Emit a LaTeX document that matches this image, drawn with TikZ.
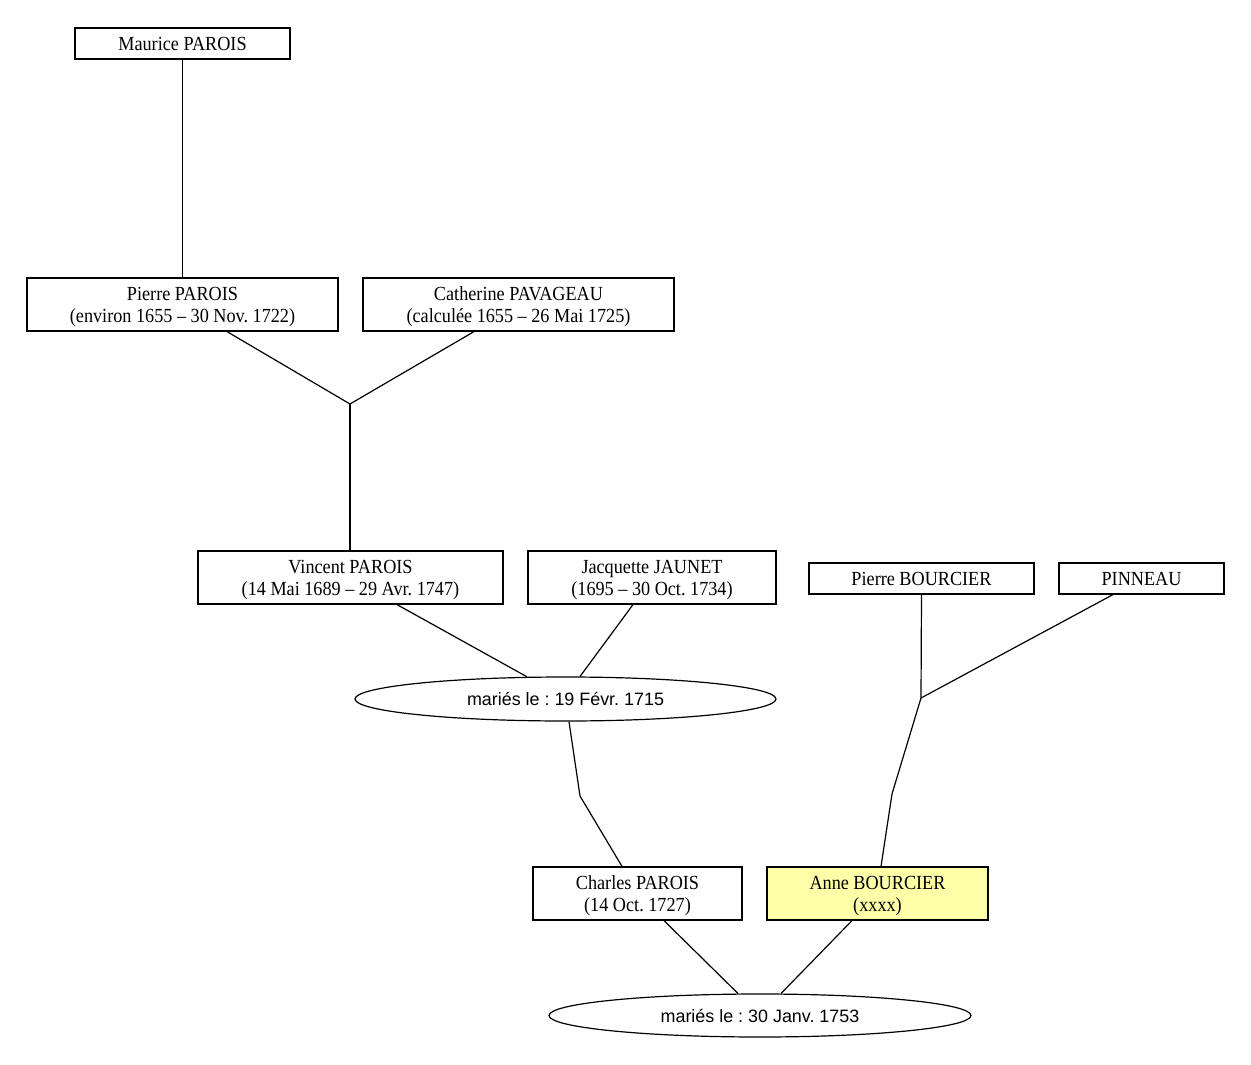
\documentclass[tikz,border=0pt]{standalone}
\usepackage{fontspec}
\setmainfont{Liberation Serif}[FakeStretch=0.91]
\newfontfamily\ellfont{Liberation Sans}
\usetikzlibrary{shapes.geometric,calc}
\definecolor{paleyellow}{RGB}{255,255,170}
\tikzset{
  person/.style={draw, line width=1.2pt, inner sep=0pt, align=center,
    text depth=0pt, font=\frenchspacing\fontsize{20}{22}\selectfont},
  wedding/.style={draw, ellipse, line width=1.2pt, inner sep=0pt,
    font=\frenchspacing\ellfont\fontsize{17.9}{21}\selectfont},
  link/.style={line width=1.2pt}
}
\begin{document}
\begin{tikzpicture}[x=1pt,y=-1pt]
\useasboundingbox (0,0) rectangle (1251,1065);
% people
\node[person, minimum width=215pt, minimum height=31pt] (mp) at (182.5,43.5) {Maurice PAROIS};
\node[person, minimum width=311pt, minimum height=53pt] (pp) at (182.5,304.5) {Pierre PAROIS\\(environ 1655 -- 30 Nov. 1722)};
\node[person, minimum width=311pt, minimum height=53pt] (cp) at (518.5,304.5) {Catherine PAVAGEAU\\(calculée 1655 -- 26 Mai 1725)};
\node[person, minimum width=305pt, minimum height=53pt] (vp) at (350.5,577.5) {Vincent PAROIS\\(14 Mai 1689 -- 29 Avr. 1747)};
\node[person, minimum width=248pt, minimum height=53pt] (jj) at (652,577.5) {Jacquette JAUNET\\(1695 -- 30 Oct. 1734)};
\node[person, minimum width=225pt, minimum height=31pt] (pb) at (921.5,578.5) {Pierre BOURCIER};
\node[person, minimum width=165pt, minimum height=31pt] (pn) at (1141.5,578.5) {PINNEAU};
\node[person, minimum width=209pt, minimum height=53pt] (ch) at (637.5,893.5) {Charles PAROIS\\(14 Oct. 1727)};
\node[person, fill=paleyellow, minimum width=221pt, minimum height=53pt] (ab) at (877.5,893.5) {Anne BOURCIER\\(xxxx)};
% weddings
\node[wedding, minimum width=421pt, minimum height=44pt] (m1) at (565.5,699) {mariés le : 19 Févr. 1715};
\node[wedding, minimum width=422pt, minimum height=43pt] (m2) at (760,1015.5) {mariés le : 30 Janv. 1753};
% junctions
\coordinate (j1) at (350,404);
\coordinate (k1) at (580,796);
\coordinate (j2) at (921,698);
\coordinate (k2) at (892,794);
% connectors
\draw[link] (mp.south) -- (pp.north);
\draw[link] ($(pp.south)+(44.5,0)$) -- (j1) -- ($(cp.south)+(-44.5,0)$);
\draw[link] (j1) -- (j1 |- vp.north);
\draw[link] ($(vp.south)+(46.5,0)$) -- ($(m1.north)+(-38.5,0.4)$);
\draw[link] ($(jj.south)+(-19,0)$) -- ($(m1.north)+(14.5,0.1)$);
\draw[link] ($(m1.south)+(3.5,0)$) -- (k1) -- ($(ch.north)+(-15.5,0)$);
\draw[link] (pb.south) -- (j2) -- ($(pn.south)+(-28.5,0)$);
\draw[link] (j2) -- (k2) -- ($(ab.north)+(3.5,0)$);
\draw[link] ($(ch.south)+(26.5,0)$) -- ($(m2.north)+(-22,0.1)$);
\draw[link] ($(ab.south)+(-25.5,0)$) -- ($(m2.north)+(21,0.1)$);
\end{tikzpicture}
\end{document}
